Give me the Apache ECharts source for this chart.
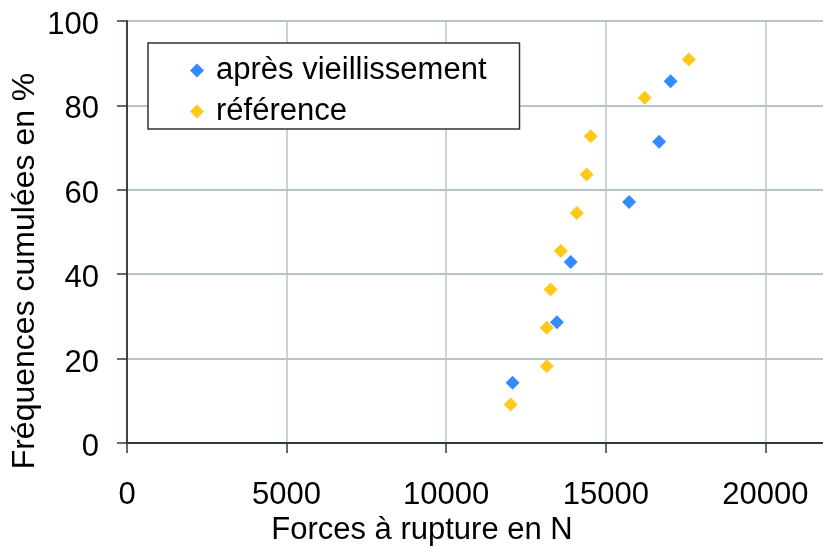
<!DOCTYPE html>
<html>
<head>
<meta charset="utf-8">
<script src="https://cdn.jsdelivr.net/npm/echarts@6/dist/echarts.min.js"></script>
<style>
html,body{margin:0;padding:0;background:#fff;}
#chart{width:823px;height:547px;}
</style>
</head>
<body>
<div id="chart"></div>
<script>
// Data
const seriesNames = ['après vieillissement', 'référence'];
const agedX = [12080, 13470, 13900, 15730, 16670, 17030];
const agedY = [14.3, 28.6, 42.9, 57.1, 71.4, 85.7];
const refX = [12020, 13150, 13150, 13270, 13590, 14090, 14400, 14530, 16220, 17600];
const refY = [9.1, 18.2, 27.3, 36.4, 45.5, 54.5, 63.6, 72.7, 81.8, 90.9];
const xTickLabels = ['0', '5000', '10000', '15000', '20000'];
const yTickLabels = ['0', '20', '40', '60', '80', '100'];
const xTitle = 'Forces à rupture en N';
const yTitle = 'Fréquences cumulées en %';

const FONT = '"Liberation Sans", Arial, Helvetica, sans-serif';
const pairs = (xs, ys) => xs.map((x, i) => [x, ys[i]]);

const chart = echarts.init(document.getElementById('chart'), null, {renderer: 'canvas'});
chart.setOption({
  animation: false,
  backgroundColor: '#ffffff',
  textStyle: {fontFamily: FONT},
  grid: {left: 127, top: 21, width: 798, height: 422, containLabel: false, outerBoundsMode: 'none'},
  xAxis: {
    type: 'value', min: 0, max: 25000, interval: 5000,
    axisLine: {show: true, onZero: false, lineStyle: {color: '#2f3a3a', width: 2}},
    axisTick: {show: true, inside: false, length: 10, lineStyle: {color: '#2f3a3a', width: 1.5}},
    axisLabel: {
      margin: 37, fontSize: 31, color: '#000', fontFamily: FONT,
      formatter: v => { const i = Math.round(v / 5000); return (v % 5000 === 0 && xTickLabels[i] !== undefined) ? xTickLabels[i] : ''; }
    },
    splitLine: {show: true, lineStyle: {color: '#b6c6c9', width: 1.5}}
  },
  yAxis: {
    type: 'value', min: 0, max: 100, interval: 20,
    axisLine: {show: true, onZero: false, lineStyle: {color: '#3a4444', width: 2}},
    axisTick: {show: true, inside: false, length: 10, lineStyle: {color: '#2f3a3a', width: 1.5}},
    axisLabel: {
      margin: 28, fontSize: 31, color: '#000', fontFamily: FONT,
      formatter: v => { const i = Math.round(v / 20); return yTickLabels[i] !== undefined ? '{a|' + yTickLabels[i] + '}' : ''; },
      rich: {a: {fontSize: 31, color: '#000', fontFamily: FONT, padding: [9, 0, 0, 0]}}
    },
    splitLine: {show: true, lineStyle: {color: '#9fb2b4', width: 1.5}}
  },
  legend: {
    data: [seriesNames[0], seriesNames[1]],
    orient: 'vertical',
    left: 148, top: 43,
    padding: [12, 33, 2, 42],
    itemGap: 10,
    itemWidth: 14, itemHeight: 14,
    backgroundColor: '#ffffff',
    borderColor: '#333333', borderWidth: 1.5, borderRadius: 0,
    textStyle: {fontSize: 31, color: '#000', fontFamily: FONT, padding: [0, 0, 0, 7]},
    selectedMode: false
  },
  series: [
    {
      name: seriesNames[1], type: 'scatter', symbol: 'diamond', symbolSize: 14,
      itemStyle: {color: '#ffc81a', opacity: 1}, data: pairs(refX, refY), z: 2
    },
    {
      name: seriesNames[0], type: 'scatter', symbol: 'diamond', symbolSize: 14,
      itemStyle: {color: '#338cff', opacity: 1}, data: pairs(agedX, agedY), z: 3
    }
  ],
  graphic: [
    {type: 'text', x: 422, y: 530, style: {text: xTitle, font: '31px ' + FONT, fill: '#000', align: 'center', verticalAlign: 'middle'}},
    {type: 'text', x: 25, y: 271, rotation: Math.PI / 2, style: {text: yTitle, font: '32px ' + FONT, fill: '#000', align: 'center', verticalAlign: 'middle'}}
  ]
});
</script>
</body>
</html>
